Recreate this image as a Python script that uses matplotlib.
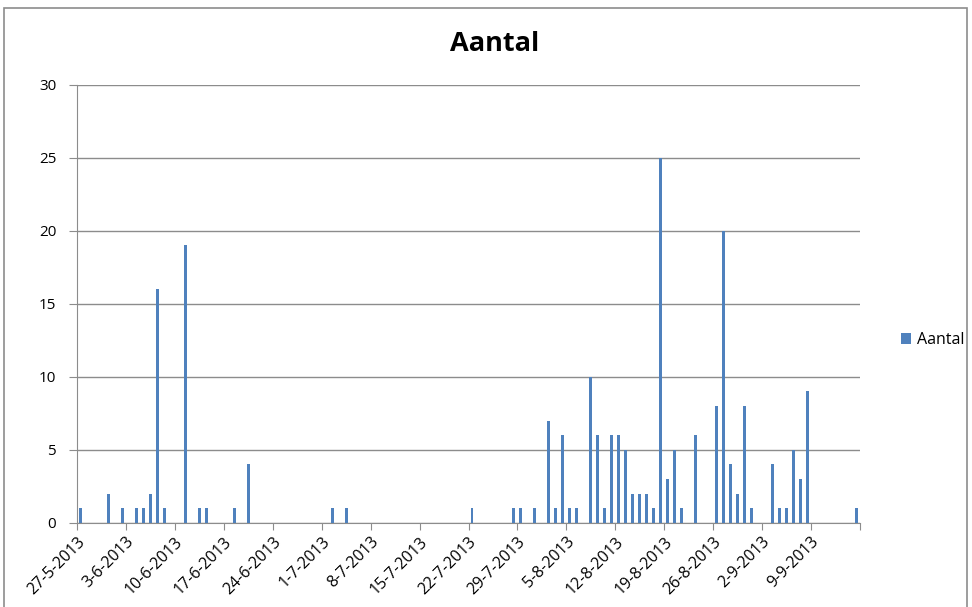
import datetime as dt
import matplotlib
matplotlib.use("Agg")
import matplotlib.pyplot as plt
import matplotlib.dates as mdates
from matplotlib.patches import Rectangle

# data (day, month, count) in 2013
days = [
    (27, 5), (31, 5), (2, 6), (4, 6), (5, 6), (6, 6), (7, 6), (8, 6), (11, 6),
    (13, 6), (14, 6), (18, 6), (20, 6), (2, 7), (4, 7), (22, 7), (28, 7),
    (29, 7), (31, 7), (2, 8), (3, 8), (4, 8), (5, 8), (6, 8), (8, 8), (9, 8),
    (10, 8), (11, 8), (12, 8), (13, 8), (14, 8), (15, 8), (16, 8), (17, 8),
    (18, 8), (19, 8), (20, 8), (21, 8), (23, 8), (26, 8), (27, 8), (28, 8),
    (29, 8), (30, 8), (31, 8), (3, 9), (4, 9), (5, 9), (6, 9), (7, 9), (8, 9),
    (15, 9),
]
aantal = [
    1, 2, 1, 1, 1, 2, 16, 1, 19,
    1, 1, 1, 4, 1, 1, 1, 1,
    1, 1, 7, 1, 6, 1, 1, 10, 6,
    1, 6, 6, 5, 2, 2, 2, 1,
    25, 3, 5, 1, 6, 8, 20, 4,
    2, 8, 1, 4, 1, 1, 5, 3, 9,
    1,
]
tick_labels = [
    "27-5-2013", "3-6-2013", "10-6-2013", "17-6-2013", "24-6-2013",
    "1-7-2013", "8-7-2013", "15-7-2013", "22-7-2013", "29-7-2013",
    "5-8-2013", "12-8-2013", "19-8-2013", "26-8-2013", "2-9-2013",
    "9-9-2013", "",
]

start = dt.date(2013, 5, 27)
end = dt.date(2013, 9, 16)
dates = [mdates.date2num(dt.date(2013, m, d)) for d, m in days]

plt.rcParams["font.family"] = ["Open Sans", "DejaVu Sans"]

fig = plt.figure(figsize=(9.72, 6.07), dpi=100)
ax = fig.add_axes([77 / 972, 1 - 522.7 / 607, (860 - 77) / 972, (522.7 - 85) / 607])

# chart area border
fig.patches.append(Rectangle((4 / 972, -0.01), 963 / 972, 1 - 8 / 607 + 0.01,
                             transform=fig.transFigure, fill=False,
                             edgecolor="#8c8c8c", linewidth=1.2))

# bars sit in the middle of each day slot
x = [d + 0.5 for d in dates]
ax.bar(x, aantal, width=0.42, color="#4F81BD", label="Aantal", zorder=3)

ax.set_xlim(mdates.date2num(start), mdates.date2num(end))
ax.set_ylim(0, 30)
ax.set_yticks(range(0, 31, 5))
ticks = [mdates.date2num(start) + 7 * i for i in range(len(tick_labels))]
ax.set_xticks(ticks)
ax.set_xticklabels(tick_labels, rotation=45, ha="right", rotation_mode="anchor")

ax.grid(axis="y", color="#8c8c8c", linewidth=1)
ax.set_axisbelow(True)
for side in ["top", "right"]:
    ax.spines[side].set_visible(False)
for side in ["left", "bottom"]:
    ax.spines[side].set_color("#8c8c8c")
ax.tick_params(axis="x", direction="out", length=5, color="#8c8c8c",
               labelsize=11.5, pad=3)
ax.tick_params(axis="y", direction="out", length=6, color="#8c8c8c",
               labelsize=11, pad=9)

fig.text(495 / 972, 1 - 44 / 607, "Aantal", ha="center", va="center",
         fontsize=19.5, fontweight="bold")

fig.legend(loc="center left", bbox_to_anchor=(901 / 972, 1 - 340 / 607),
           frameon=False, fontsize=11.5, handlelength=0.65, handleheight=0.65,
           handletextpad=0.35, borderaxespad=0, borderpad=0)

fig.savefig("out.png", dpi=100)
